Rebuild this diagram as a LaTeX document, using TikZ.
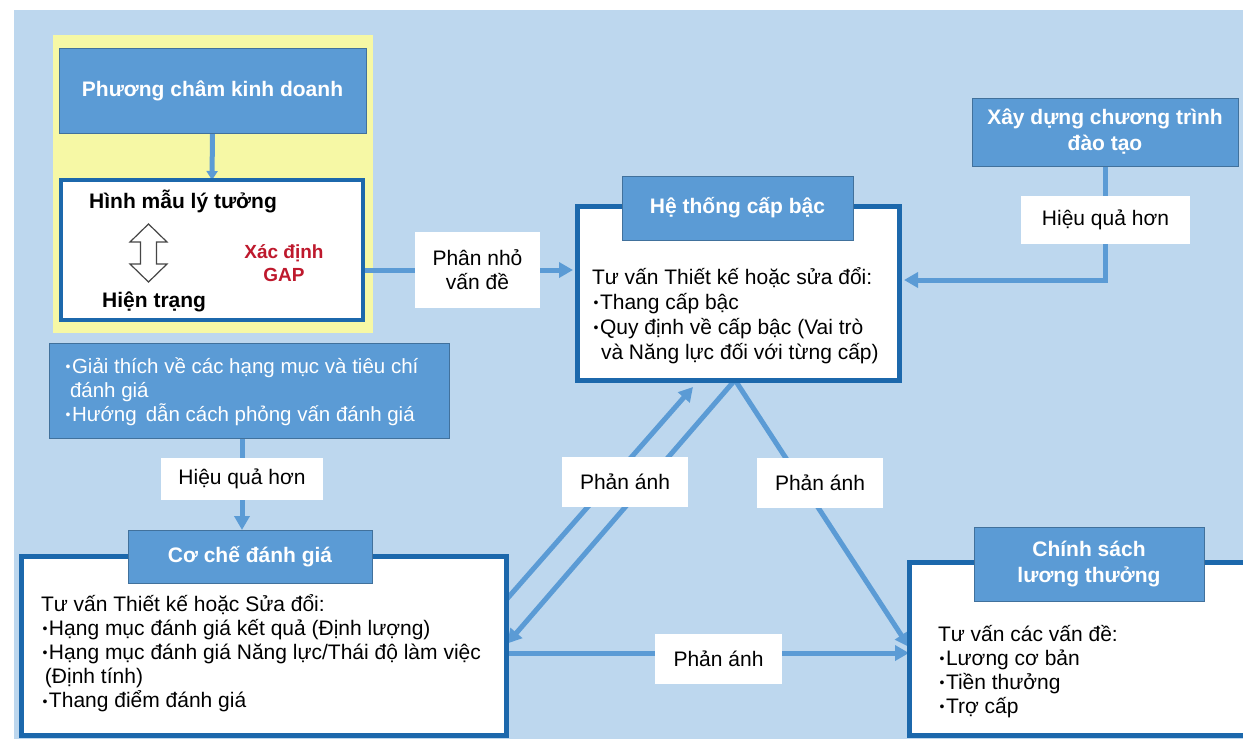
\documentclass[tikz,border=0pt]{standalone}
\usepackage{fontspec}
\setmainfont{Liberation Sans}
\usetikzlibrary{arrows.meta,calc}
\definecolor{bgblue}{RGB}{189,215,238}
\definecolor{hdrblue}{RGB}{91,155,213}
\definecolor{hdrline}{RGB}{65,113,156}
\definecolor{borderblue}{RGB}{28,104,172}
\definecolor{connblue}{RGB}{91,155,213}
\definecolor{paleyellow}{RGB}{246,248,165}
\definecolor{gapred}{RGB}{190,25,45}
\definecolor{arrowgray}{RGB}{70,70,70}
\pgfdeclarelayer{bglayer}
\pgfdeclarelayer{linelayer}
\pgfsetlayers{bglayer,linelayer,main}
\newcommand{\TS}{\rule{0pt}{22pt}}
\newcommand{\bul}{\makebox[8pt][c]{\raisebox{1.5pt}{\fontsize{14}{14}\selectfont•}}}
\begin{document}
\begin{tikzpicture}[x=1pt,y=-1pt,
  box/.style={anchor=north west, inner sep=0pt, outer sep=0pt},
  hdr/.style={box, fill=hdrblue, draw=hdrline, line width=1pt, text=white,
    font=\fontsize{21}{26}\selectfont\bfseries, align=center},
  wbox/.style={box, fill=white, draw=borderblue, line width=5pt},
  lbl/.style={box, fill=white, font=\fontsize{21}{24}\selectfont, align=center},
  txt/.style={anchor=north west, inner sep=0pt, outer sep=0pt, align=left,
    font=\fontsize{21}{25}\selectfont},
  bold/.style={inner sep=0pt, font=\fontsize{21}{25}\selectfont\bfseries},
  conn/.style={draw=connblue, line width=5pt},
  tip/.style={-{Triangle[length=14pt,width=15pt]}},
  smalltip/.style={-{Triangle[length=9pt,width=11pt]}}
]
\useasboundingbox (0,0) rectangle (1243,739);

\begin{pgfonlayer}{bglayer}
  \fill[bgblue] (14,10) rectangle (1243,739);
  \node[box, fill=paleyellow, minimum width=320pt, minimum height=298pt] (yellow) at (53,35) {};
\end{pgfonlayer}

% boxes
\node[hdr, minimum width=307pt, minimum height=85pt] (phuong) at (59,48) {Phương châm kinh doanh};
\node[box, fill=white, draw=borderblue, line width=4pt, minimum width=302pt, minimum height=140pt] (hinh) at (61,180) {};
\node[lbl, minimum width=125pt, minimum height=76pt] (phan) at (415,232) {Phân nhỏ\\vấn đề};

\node[wbox, minimum width=322pt, minimum height=174pt] (he) at (577,206) {};
\node[hdr, minimum width=231pt, minimum height=64pt] (hehdr) at (622,176) {Hệ thống cấp bậc};

\node[hdr, minimum width=266pt, minimum height=68pt] (xay) at (972,98) {Xây dựng chương trình\\đào tạo};
\node[lbl, minimum width=169pt, minimum height=48pt] (hq1) at (1021,196) {Hiệu quả hơn};

\node[box, fill=hdrblue, draw=hdrline, line width=1pt, minimum width=400pt, minimum height=95pt] (giai) at (49,343) {};
\node[lbl, minimum width=162pt, minimum height=42pt] (hq2) at (161,458) {Hiệu quả hơn};

\node[wbox, minimum width=485pt, minimum height=179pt] (co) at (21,556) {};
\node[hdr, minimum width=244pt, minimum height=53pt] (cohdr) at (128,530) {Cơ chế đánh giá};

\node[wbox, minimum width=340pt, minimum height=173pt] (cs) at (909,562) {};
\node[hdr, minimum width=230pt, minimum height=74pt] (cshdr) at (974,527) {Chính sách\\lương thưởng};

\node[lbl, minimum width=126pt, minimum height=50pt] (pa1) at (562,457) {Phản ánh};
\node[lbl, minimum width=126pt, minimum height=50pt] (pa2) at (757,458) {Phản ánh};
\node[lbl, minimum width=127pt, minimum height=50pt] (pa3) at (655,634) {Phản ánh};

% texts inside boxes
\node[bold, anchor=base west] (ideal) at (89,208) {Hình mẫu lý tưởng};
\node[bold, anchor=base west] (now) at (102,307) {Hiện trạng};
\node[inner sep=0pt, font=\fontsize{19}{23}\selectfont\bfseries, text=gapred, align=center, anchor=base] (gap) at (284,281) {Xác định\\GAP};
\draw[fill=white, draw=arrowgray, line width=1.2pt]
  (148.5,224) -- (167,242) -- (156.5,242) -- (156.5,264) -- (167,264) -- (148.5,282)
  -- (130,264) -- (140.5,264) -- (140.5,242) -- (130,242) -- cycle;

\node[txt] (hetxt) at (592,262) {\TS Tư vấn Thiết kế hoặc sửa đổi:\\\bul Thang cấp bậc\\\bul Quy định về cấp bậc (Vai trò\\\hspace{9pt}và Năng lực đối với từng cấp)};

\node[txt, text=white, font=\fontsize{20.5}{24}\selectfont] (giaitxt) at (64,351) {\TS\bul Giải thích về các hạng mục và tiêu chí\\\hspace{6pt}đánh giá\\\bul Hướng\hspace{9pt}dẫn cách phỏng vấn đánh giá};

\node[txt, font=\fontsize{21}{24.2}\selectfont] (cotxt) at (41,589) {\TS Tư vấn Thiết kế hoặc Sửa đổi:\\\bul Hạng mục đánh giá kết quả (Định lượng)\\\bul Hạng mục đánh giá Năng lực/Thái độ làm việc\\\hspace{4pt}(Định tính)\\\bul Thang điểm đánh giá};

\node[txt, font=\fontsize{21}{24}\selectfont] (cstxt) at (938,619) {\TS Tư vấn các vấn đề:\\\bul Lương cơ bản\\\bul Tiền thưởng\\\bul Trợ cấp};

% connectors
\begin{pgfonlayer}{linelayer}
  \draw[conn, smalltip] (phuong.south) -- (hinh.north);
  \draw[conn, tip, shorten >=4pt] (hinh.east |- phan.center) -- (phan.center -| he.west);
  \draw[conn, tip, shorten >=5pt] (xay.south) |- ([yshift=13pt]he.east);
  \draw[conn, tip] (hq2.center |- giai.south) -- (hq2.center |- cohdr.north);
  \draw[conn, tip] ([yshift=-44pt]co.north east) -- ([xshift=116pt,yshift=-7pt]he.south west);
  \draw[conn, tip, shorten >=2pt] ([xshift=158pt]he.south west) -- ([yshift=-89pt]co.north east);
  \draw[conn, tip] ([xshift=158pt]he.south west) -- ([yshift=-85pt]cs.north west);
  \draw[conn, tip] ([yshift=-97pt]co.north east) -- ([yshift=-91pt]cs.north west);
\end{pgfonlayer}
\end{tikzpicture}
\end{document}
